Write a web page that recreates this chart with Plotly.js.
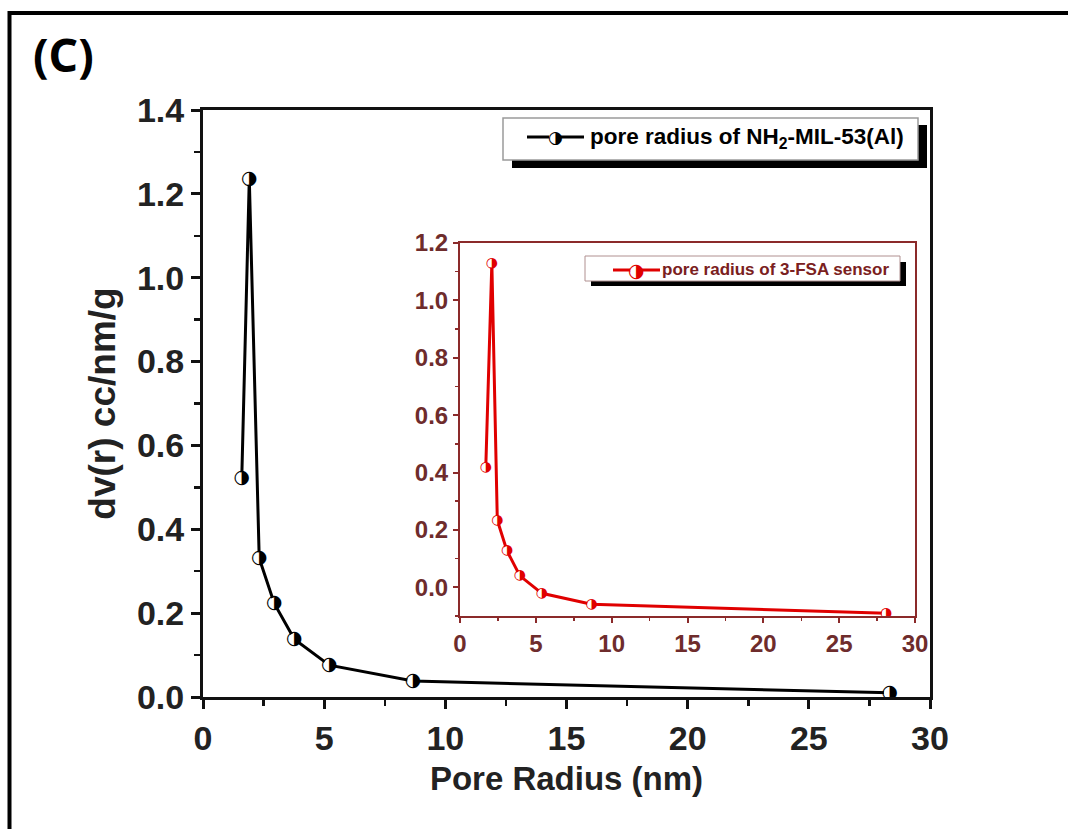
<!DOCTYPE html>
<html><head><meta charset="utf-8">
<script src="https://cdn.plot.ly/plotly-3.0.1.min.js"></script>
<style>html,body{margin:0;padding:0;background:#fff}#chart{width:1068px;height:829px}</style>
</head><body><div id="chart"></div>
<script>
// ---- data ----
const mainRadius = [1.60, 1.91, 2.32, 2.94, 3.77, 5.21, 8.67, 28.34];
const mainDv     = [0.522, 1.236, 0.331, 0.223, 0.138, 0.076, 0.038, 0.010];
const insetRadius = [1.70, 2.10, 2.46, 3.10, 3.95, 5.40, 8.67, 28.10];
const insetDv     = [0.418, 1.130, 0.234, 0.127, 0.040, -0.021, -0.059, -0.090];
const xTickVals = [0, 5, 10, 15, 20, 25, 30];
const xTickText = ['0', '5', '10', '15', '20', '25', '30'];
const mainYTickVals = [0, 0.2, 0.4, 0.6, 0.8, 1.0, 1.2, 1.4];
const mainYTickText = ['0.0', '0.2', '0.4', '0.6', '0.8', '1.0', '1.2', '1.4'];
const insetYTickVals = [0, 0.2, 0.4, 0.6, 0.8, 1.0, 1.2];
const insetYTickText = ['0.0', '0.2', '0.4', '0.6', '0.8', '1.0', '1.2'];
const mainLabel = 'pore radius of NH<sub>2</sub>-MIL-53(Al)';
const insetLabel = 'pore radius of 3-FSA sensor';

// ---- geometry helpers (pixel -> paper) ----
const W = 1068, H = 829, L = 203, R = 930, T = 110, B = 697;
const X = px => (px - L) / (R - L);
const Y = py => (B - py) / (B - T);

const F = 'Liberation Sans, Arial, sans-serif';
const GLYPH = '\u25D1';
const insetAxisColor = '#8b2a2a';
const insetTickColor = '#6e2c2c';
const red = '#e00000';

const traces = [
  {x: mainRadius, y: mainDv, xaxis: 'x', yaxis: 'y', type: 'scatter', mode: 'lines+markers+text',
   line: {color: '#000', width: 3}, marker: {symbol: 'circle', size: 12, color: '#fff', line: {width: 0}},
   text: mainRadius.map(() => GLYPH), textposition: 'middle center',
   textfont: {family: 'DejaVu Sans', size: 19, color: '#000'}, hoverinfo: 'x+y', name: 'main'},
  {x: insetRadius, y: insetDv, xaxis: 'x2', yaxis: 'y2', type: 'scatter', mode: 'lines+markers+text',
   line: {color: red, width: 3}, marker: {symbol: 'circle', size: 9, color: '#fff', line: {width: 0}},
   text: insetRadius.map(() => GLYPH), textposition: 'middle center',
   textfont: {family: 'DejaVu Sans', size: 14, color: red}, hoverinfo: 'x+y', name: 'inset'}
];

const mainAxisCommon = {
  showline: true, linewidth: 3, linecolor: '#111', mirror: true, showgrid: false, zeroline: false,
  ticks: 'outside', ticklen: 9, tickwidth: 3, tickcolor: '#111'
};
const insetAxisCommon = {
  showline: true, linewidth: 2, linecolor: insetAxisColor, mirror: true, showgrid: false, zeroline: false,
  ticks: 'outside', ticklen: 5, tickwidth: 2, tickcolor: insetAxisColor
};
const mainTickFont = () => ({family: F, size: 34, weight: 700, color: '#222'});
const insetTickFont = () => ({family: F, size: 24, weight: 700, color: insetTickColor});

const shapes = [
  // outer frame
  {type: 'line', xref: 'paper', yref: 'paper', x0: X(8), x1: X(1068), y0: Y(13), y1: Y(13), line: {color: '#000', width: 4}},
  {type: 'line', xref: 'paper', yref: 'paper', x0: X(9.5), x1: X(9.5), y0: Y(11), y1: Y(829), line: {color: '#000', width: 4}},
  // main legend box + shadow
  {type: 'rect', xref: 'paper', yref: 'paper', x0: X(512), x1: X(927), y0: Y(168), y1: Y(125), fillcolor: '#000', line: {width: 0}, layer: 'above'},
  {type: 'rect', xref: 'paper', yref: 'paper', x0: X(503), x1: X(918), y0: Y(160), y1: Y(118), fillcolor: '#fff', line: {color: '#9a9a9a', width: 1.5}, layer: 'above'},
  {type: 'line', xref: 'paper', yref: 'paper', x0: X(527), x1: X(584), y0: Y(137), y1: Y(137), line: {color: '#000', width: 3}, layer: 'above'},
  {type: 'circle', xref: 'paper', yref: 'paper', xsizemode: 'pixel', ysizemode: 'pixel', xanchor: X(555), yanchor: Y(137),
   x0: -6, x1: 6, y0: -6, y1: 6, fillcolor: '#fff', line: {width: 0}, layer: 'above'},
  // inset legend box + shadow
  {type: 'rect', xref: 'paper', yref: 'paper', x0: X(591), x1: X(906), y0: Y(286), y1: Y(262), fillcolor: '#000', line: {width: 0}, layer: 'above'},
  {type: 'rect', xref: 'paper', yref: 'paper', x0: X(585), x1: X(900), y0: Y(281), y1: Y(256), fillcolor: '#fff', line: {color: '#b09090', width: 1}, layer: 'above'},
  {type: 'line', xref: 'paper', yref: 'paper', x0: X(613), x1: X(660), y0: Y(270), y1: Y(270), line: {color: red, width: 3}, layer: 'above'},
  {type: 'circle', xref: 'paper', yref: 'paper', xsizemode: 'pixel', ysizemode: 'pixel', xanchor: X(636), yanchor: Y(270),
   x0: -6, x1: 6, y0: -6, y1: 6, fillcolor: '#fff', line: {width: 0}, layer: 'above'}
];

const annotations = [
  {text: '<b>(C)</b>', xref: 'paper', yref: 'paper', x: X(31), y: Y(54), xanchor: 'left', yanchor: 'middle',
   showarrow: false, font: {family: 'Noto Sans, sans-serif', size: 46, color: '#000'}},
  {text: GLYPH, xref: 'paper', yref: 'paper', x: X(555), y: Y(137), xanchor: 'center', yanchor: 'middle',
   showarrow: false, font: {family: 'DejaVu Sans', size: 17, color: '#000'}},
  {text: '<b>' + mainLabel + '</b>', xref: 'paper', yref: 'paper', x: X(588), y: Y(138), xanchor: 'left', yanchor: 'middle',
   showarrow: false, font: {family: F, size: 22.5, color: '#000'}},
  {text: GLYPH, xref: 'paper', yref: 'paper', x: X(636), y: Y(270), xanchor: 'center', yanchor: 'middle',
   showarrow: false, font: {family: 'DejaVu Sans', size: 19, color: red}},
  {text: '<b>' + insetLabel + '</b>', xref: 'paper', yref: 'paper', x: X(660), y: Y(269), xanchor: 'left', yanchor: 'middle',
   showarrow: false, font: {family: F, size: 17, color: '#7a2020'}}
];

const layout = {
  width: W, height: H, margin: {l: L, r: W - R, t: T, b: H - B, pad: 0},
  paper_bgcolor: '#fff', plot_bgcolor: '#fff', showlegend: false,
  font: {family: F, color: '#111'},
  xaxis: Object.assign({}, mainAxisCommon, {
    range: [0, 30], domain: [0, 1], anchor: 'y', tickvals: xTickVals, ticktext: xTickText, tickfont: mainTickFont(),
    minor: {ticks: 'outside', ticklen: 6, tickwidth: 2.5, dtick: 2.5, tickcolor: '#111', showgrid: false},
    title: {text: '<b>Pore Radius (nm)</b>', font: {family: F, size: 33, color: '#222'}, standoff: 12}
  }),
  yaxis: Object.assign({}, mainAxisCommon, {
    range: [0, 1.4], domain: [0, 1], anchor: 'x', tickvals: mainYTickVals, ticktext: mainYTickText, tickfont: mainTickFont(),
    minor: {ticks: 'outside', ticklen: 6, tickwidth: 2.5, dtick: 0.1, tickcolor: '#111', showgrid: false},
    title: {text: '<b>dv(r) cc/nm/g</b>', font: {family: F, size: 37, color: '#222'}, standoff: 10}
  }),
  xaxis2: Object.assign({}, insetAxisCommon, {
    range: [0, 30], domain: [X(460), X(915)], anchor: 'y2', tickvals: xTickVals, ticktext: xTickText, tickfont: insetTickFont(),
    minor: {ticks: 'outside', ticklen: 3, tickwidth: 1.5, dtick: 2.5, tickcolor: insetAxisColor, showgrid: false}
  }),
  yaxis2: Object.assign({}, insetAxisCommon, {
    range: [-0.1, 1.2], domain: [Y(616), Y(243)], anchor: 'x2', tickvals: insetYTickVals, ticktext: insetYTickText, tickfont: insetTickFont(),
    minor: {ticks: 'outside', ticklen: 3, tickwidth: 1.5, dtick: 0.1, tickcolor: insetAxisColor, showgrid: false}
  }),
  shapes: shapes,
  annotations: annotations
};

Plotly.newPlot('chart', traces, layout, {displayModeBar: false, staticPlot: true});
</script>
</body></html>
